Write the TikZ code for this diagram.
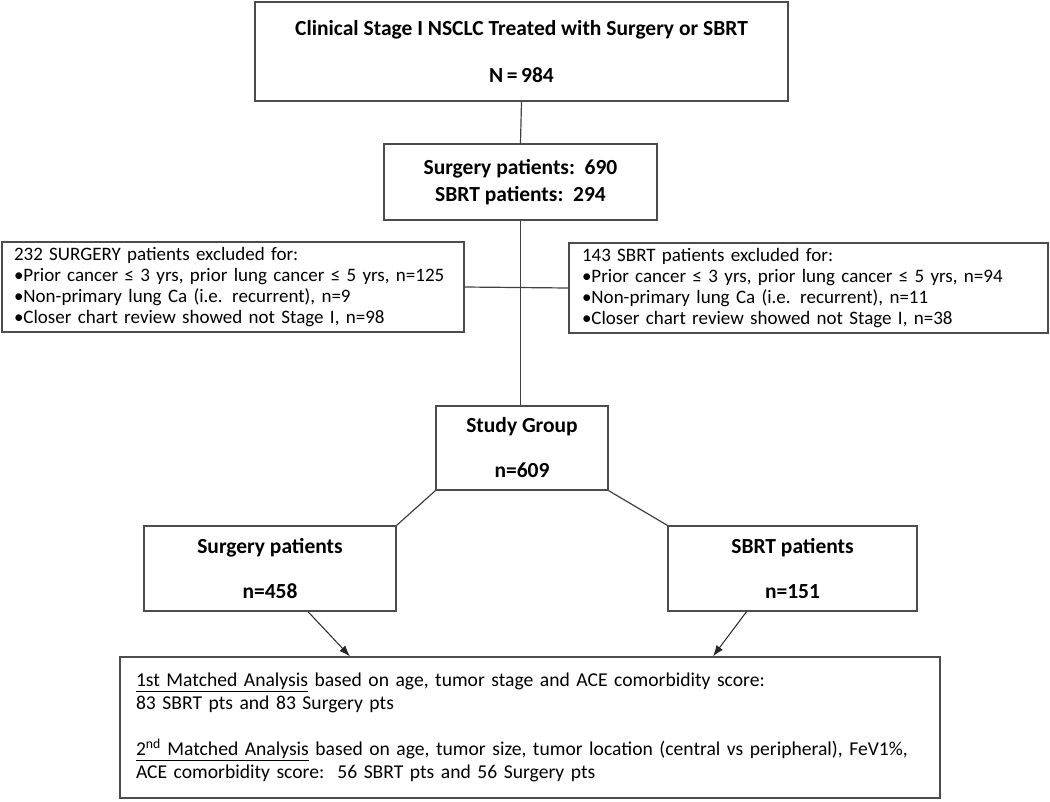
\documentclass[tikz,border=0pt]{standalone}
\usepackage{fontspec}
\setmainfont{Carlito}
\usepackage{tikz}
\usetikzlibrary{shapes,arrows,arrows.meta}
\tikzstyle{block} = [rectangle, draw=black!70, line width=1.3pt, align=center, inner sep=0pt, font=\bfseries\fontsize{21.5}{24}\selectfont]
\tikzstyle{excl} = [rectangle, draw=black!70, line width=1.3pt, align=left, inner ysep=0pt, minimum height=90pt, font=\fontsize{19}{21}\selectfont]
\tikzstyle{link} = [draw=black!75, line width=1.2pt]
\tikzstyle{line} = [draw=black!85, line width=1pt, -{Latex[length=11pt,width=8pt]}]

\begin{document}
\begin{tikzpicture}[x=1pt, y=-1pt]
		\useasboundingbox (0,0) rectangle (1050,801);
		\node [block, minimum width=533pt, minimum height=99pt] (total) at (521.5,51.5) {Clinical Stage I NSCLC Treated with Surgery or SBRT\\[23pt]N\,=\,984};
		\node [block, minimum width=273pt, minimum height=76pt, font=\bfseries\fontsize{21.5}{27}\selectfont] (split) at (520.5,182) {Surgery patients:\ \ 690\\SBRT patients:\ \ 294};
		\node [excl, text width=438pt, inner xsep=12pt] (exclsurg) at (233,287) {232 SURGERY patients excluded for:\\
			•Prior cancer ≤ 3 yrs, prior lung cancer ≤ 5 yrs, n=125\\
			•Non-primary lung Ca (i.e. recurrent), n=9\\
			•Closer chart review showed not Stage I, n=98};
		\node [excl, text width=453pt, inner xsep=13pt] (exclsbrt) at (808.5,288) {143 SBRT patients excluded for:\\
			•Prior cancer ≤ 3 yrs, prior lung cancer ≤ 5 yrs, n=94\\
			•Non-primary lung Ca (i.e. recurrent), n=11\\
			•Closer chart review showed not Stage I, n=38};
		\node [block, minimum width=172pt, minimum height=84pt] (study) at (522,448) {Study Group\\[21pt]n=609};
		\node [block, minimum width=252pt, minimum height=85pt] (surg) at (270,568.5) {Surgery patients\\[21pt]n=458};
		\node [block, minimum width=249pt, minimum height=85pt] (sbrt) at (792.5,568.5) {SBRT patients\\[21pt]n=151};
		\node [excl, text width=788pt, inner xsep=16pt, minimum height=141pt, font=\fontsize{19.6}{23}\selectfont] (match) at (530,727.5) {\underline{1st Matched Analysis} based on age, tumor stage and ACE comorbidity score:\\
			83 SBRT pts and 83 Surgery pts\\[23pt]
			\underline{2\textsuperscript{nd} Matched Analysis} based on age, tumor size, tumor location (central vs peripheral), FeV1\%,\\
			ACE comorbidity score:\ \ 56 SBRT pts and 56 Surgery pts};
		
		\path [link] (total.south) -- (split.north);
		\path [link] (split.south) -- (split.south |- study.north);
		\path [link] (exclsurg.east) -- (exclsbrt.west);
		\path [link] (study.south west) -- (surg.north east);
		\path [link] (study.south east) -- (sbrt.north west);
		
		\path [line] ([xshift=38pt]surg.south) -- ([xshift=-180pt]match.north);
		\path [line] ([xshift=-46pt]sbrt.south) -- ([xshift=183pt]match.north);
		\end{tikzpicture}
\end{document}
